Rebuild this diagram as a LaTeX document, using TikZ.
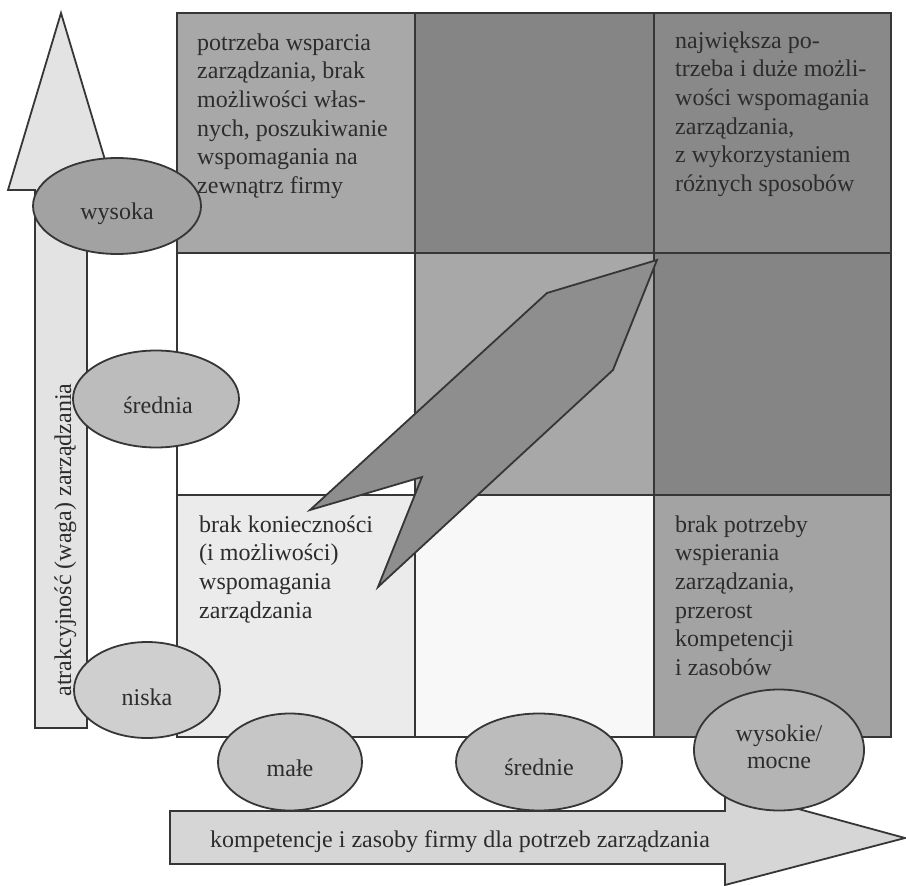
\documentclass[tikz,border=0pt]{standalone}
\usepackage{fontspec}
\setmainfont{Liberation Serif}
\usetikzlibrary{shapes.geometric}
\definecolor{ink}{HTML}{363636}
\definecolor{textc}{HTML}{2C2C2C}
\definecolor{gmed}{HTML}{A8A8A8}
\definecolor{gdark}{HTML}{858585}
\definecolor{gdarkb}{HTML}{898989}
\definecolor{glight}{HTML}{EBEBEB}
\definecolor{gwhite}{HTML}{F8F8F8}
\definecolor{gbr}{HTML}{A3A3A3}
\definecolor{gbolt}{HTML}{8E8E8E}
\definecolor{garrowv}{HTML}{E3E3E3}
\definecolor{garrowh}{HTML}{D6D6D6}
\definecolor{ewys}{HTML}{A2A2A2}
\definecolor{esre}{HTML}{BCBCBC}
\definecolor{enis}{HTML}{CFCFCF}
\definecolor{emal}{HTML}{C6C6C6}
\definecolor{esrd}{HTML}{BCBCBC}
\definecolor{emoc}{HTML}{B4B4B4}
\begin{document}
\begin{tikzpicture}[x=1pt,y=-1pt,
  edge/.style={draw=ink, line width=1.8pt, line join=miter},
  oval/.style={ellipse, draw=ink, line width=1.8pt, inner sep=0pt},
  txt/.style={inner sep=0pt, text=textc, font=\fontsize{24}{28.7}\selectfont, anchor=base west},
  lbl/.style={inner sep=0pt, text=textc, font=\fontsize{24}{28.7}\selectfont, anchor=base}]
\useasboundingbox (0,0) rectangle (906,886);
\fill[white] (0,0) rectangle (906,886);
% grid cells
\fill[gmed]   (177,13)  rectangle (415,253);
\fill[gdark]  (415,13)  rectangle (654,253);
\fill[gdarkb] (654,13)  rectangle (891,253);
\fill[white]  (177,253) rectangle (415,495);
\fill[gmed]   (415,253) rectangle (654,495);
\fill[gdark]  (654,253) rectangle (891,495);
\fill[glight] (177,495) rectangle (415,737);
\fill[gwhite] (415,495) rectangle (654,737);
\fill[gbr]    (654,495) rectangle (891,737);
\draw[edge] (177,13) rectangle (891,737);
\draw[edge] (415,13) -- (415,737);
\draw[edge] (654,13) -- (654,737);
\draw[edge] (177,253) -- (891,253);
\draw[edge] (177,495) -- (891,495);
% bolt arrow
\draw[edge, fill=gbolt] (657,260) -- (547,293) -- (310,510) -- (422,477) -- (378,587) -- (613,370) -- cycle;
% vertical arrow
\draw[edge, fill=garrowv] (35,728) -- (35,190) -- (8,190) -- (61,13) -- (114,190) -- (87,190) -- (87,728) -- cycle;
% horizontal arrow
\draw[edge, fill=garrowh] (170,811) -- (725,811) -- (725,789) -- (905,838) -- (725,885) -- (725,864) -- (170,864) -- cycle;
% ellipses
\node[oval, fill=ewys, minimum width=168pt, minimum height=96pt] (wys) at (117,206) {};
\node[oval, fill=esre, minimum width=166pt, minimum height=97pt] (sre) at (156,399) {};
\node[oval, fill=enis, minimum width=146pt, minimum height=96pt] (nis) at (147,690) {};
\node[oval, fill=emal, minimum width=144pt, minimum height=97pt] (mal) at (290,762) {};
\node[oval, fill=esrd, minimum width=166pt, minimum height=97pt] (srd) at (539,762) {};
\node[oval, fill=emoc, minimum width=170pt, minimum height=121pt] (moc) at (779,750) {};
% ellipse labels
\node[lbl] (lwys) at (117,219) {wysoka};
\node[lbl] (lsre) at (158,413) {średnia};
\node[lbl] (lnis) at (147,705) {niska};
\node[lbl] (lmal) at (290,776) {małe};
\node[lbl] (lsrd) at (539,775) {średnie};
\node[lbl] (lmoc1) at (779,741) {wysokie/};
\node[lbl] (lmoc2) at (779,768) {mocne};
% axis labels
\node[lbl, rotate=90] (ylab) at (71,540) {atrakcyjność (waga) zarządzania};
\node[txt] (xlab) at (210,847) {kompetencje i zasoby firmy dla potrzeb zarządzania};
% cell texts
\node[txt] (t11) at (197,50) {\vtop{\hbox{potrzeba wsparcia}\hbox{zarządzania, brak}\hbox{możliwości włas-}\hbox{nych, poszukiwanie}\hbox{wspomagania na}\hbox{zewnątrz firmy}}};
\node[txt] (t13) at (675,48) {\vtop{\hbox{największa po-}\hbox{trzeba i duże możli-}\hbox{wości wspomagania}\hbox{zarządzania,}\hbox{z wykorzystaniem}\hbox{różnych sposobów}}};
\node[txt] (t31) at (199,532) {\vtop{\hbox{brak konieczności}\hbox{(i możliwości)}\hbox{wspomagania}\hbox{zarządzania}}};
\node[txt] (t33) at (675,532) {\vtop{\hbox{brak potrzeby}\hbox{wspierania}\hbox{zarządzania,}\hbox{przerost}\hbox{kompetencji}\hbox{i zasobów}}};
\end{tikzpicture}
\end{document}
